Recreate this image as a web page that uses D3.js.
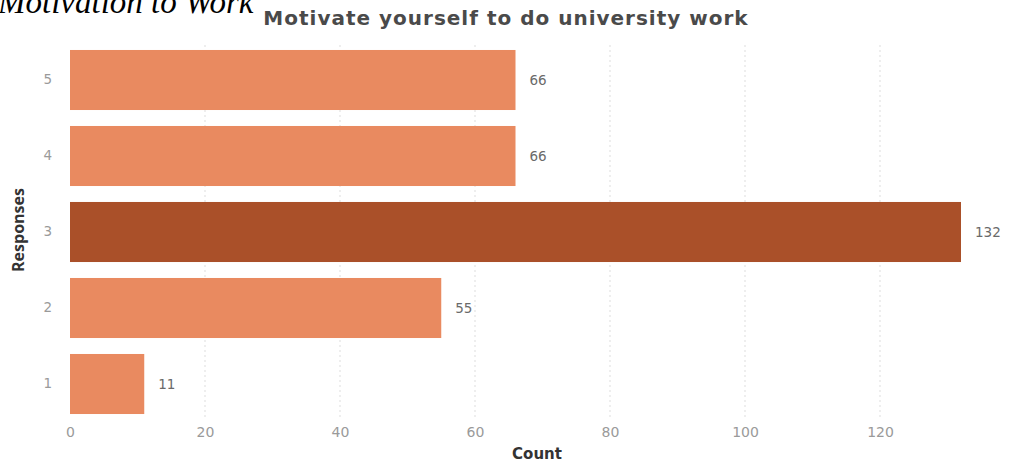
<!DOCTYPE html>
<html>
<head>
<meta charset="utf-8">
<script src="https://cdn.jsdelivr.net/npm/d3@7"></script>
<style>
  body { margin: 0; background: #fff; }
  svg { display: block; }
</style>
</head>
<body>
<svg id="chart"></svg>
<script>
const responses = ['5', '4', '3', '2', '1'];
const counts = [66, 66, 132, 55, 11];
const xTicks = [0, 20, 40, 60, 80, 100, 120];
const highlight = '3';

const W = 1009, H = 462;
const svg = d3.select('#chart').attr('width', W).attr('height', H);

const x = d3.scaleLinear().domain([0, 132]).range([70, 961]);
const y = d3.scaleBand().domain(responses).range([42, 422]).paddingInner(0.21).paddingOuter(0.105);

// Figure caption (cut off at top, as in the source page)
svg.append('text')
    .attr('x', -2).attr('y', 13)
    .attr('font-family', 'Liberation Serif, serif')
    .attr('font-style', 'italic')
    .attr('font-size', '33px')
    .attr('fill', '#000')
    .text('Motivation to Work');

// Title
svg.append('text')
    .attr('x', 506).attr('y', 25)
    .attr('text-anchor', 'middle')
    .attr('font-family', 'DejaVu Sans, sans-serif')
    .attr('font-weight', '700')
    .attr('font-size', '20px')
    .attr('letter-spacing', '1px')
    .attr('fill', '#4a4a4a')
    .text('Motivate yourself to do university work');

// Grid
svg.append('g')
    .selectAll('line')
    .data(xTicks.filter(d => d > 0))
    .join('line')
    .attr('x1', d => x(d)).attr('x2', d => x(d))
    .attr('y1', 45).attr('y2', 418)
    .attr('stroke', '#ddd')
    .attr('stroke-width', 1)
    .attr('stroke-dasharray', '2,3');

// Bars
svg.append('g')
    .selectAll('rect')
    .data(responses)
    .join('rect')
    .attr('x', x(0))
    .attr('y', d => y(d))
    .attr('width', (d, i) => x(counts[i]) - x(0))
    .attr('height', y.bandwidth())
    .attr('fill', d => d === highlight ? '#aa5029' : '#e98a60');

// Value labels
svg.append('g')
    .selectAll('text')
    .data(responses)
    .join('text')
    .attr('x', (d, i) => x(counts[i]) + 14)
    .attr('y', d => y(d) + y.bandwidth() / 2)
    .attr('dy', '0.35em')
    .attr('font-family', 'DejaVu Sans, sans-serif')
    .attr('font-size', '13.5px')
    .attr('fill', '#6a6a6a')
    .text((d, i) => counts[i]);

// X axis
const xAxis = svg.append('g')
    .attr('transform', 'translate(0,421)')
    .call(d3.axisBottom(x).tickValues(xTicks).tickSize(0).tickPadding(6));
xAxis.select('.domain').remove();
xAxis.selectAll('text')
    .attr('font-family', 'DejaVu Sans, sans-serif')
    .attr('font-size', '14px')
    .attr('fill', '#9a9a9a');

// Y axis
const yAxis = svg.append('g')
    .attr('transform', 'translate(70,0)')
    .call(d3.axisLeft(y).tickSize(0).tickPadding(18));
yAxis.select('.domain').remove();
yAxis.selectAll('text')
    .attr('font-family', 'DejaVu Sans, sans-serif')
    .attr('font-size', '13.5px')
    .attr('fill', '#9a9a9a');

// Axis titles
svg.append('text')
    .attr('x', 537).attr('y', 459)
    .attr('text-anchor', 'middle')
    .attr('font-family', 'DejaVu Sans, sans-serif')
    .attr('font-weight', '700')
    .attr('font-size', '15px')
    .attr('fill', '#333')
    .text('Count');

svg.append('text')
    .attr('transform', 'translate(24,230) rotate(-90)')
    .attr('text-anchor', 'middle')
    .attr('font-family', 'Open Sans, sans-serif')
    .attr('font-weight', '700')
    .attr('font-size', '16px')
    .attr('fill', '#333')
    .text('Responses');
</script>
</body>
</html>
